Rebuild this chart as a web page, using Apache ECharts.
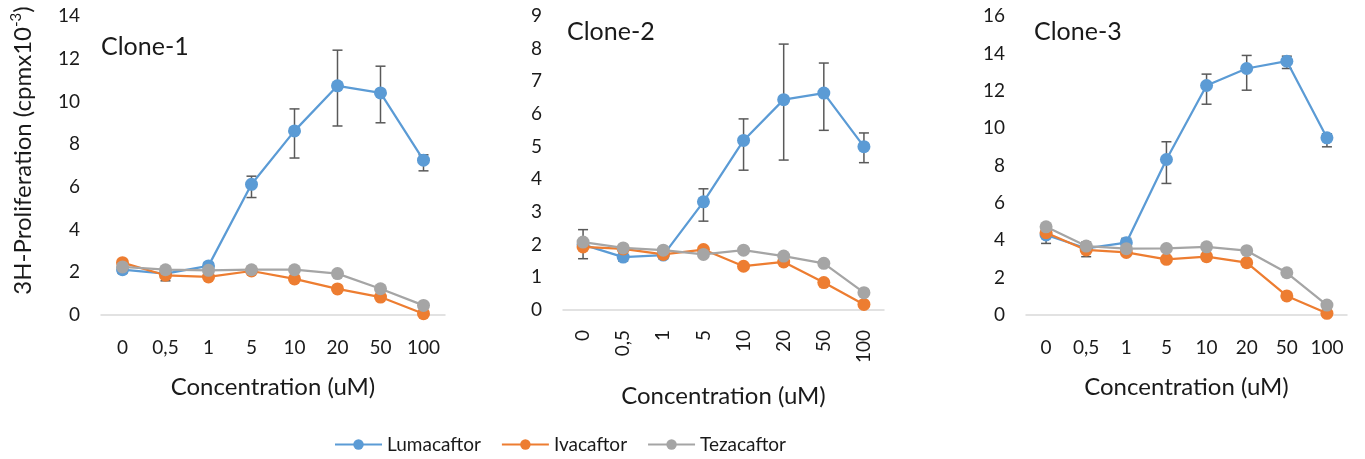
<!DOCTYPE html>
<html>
<head>
<meta charset="utf-8">
<script src="https://cdn.jsdelivr.net/npm/echarts@6/dist/echarts.min.js"></script>
<style>
html,body{margin:0;padding:0;background:#fff;}
#c{width:1365px;height:459px;}
</style>
</head>
<body>
<div id="c"></div>
<script>
// ---- data ----
var categories = ['0', '0,5', '1', '5', '10', '20', '50', '100'];
var panelTitles = ['Clone-1', 'Clone-2', 'Clone-3'];
var seriesNames = ['Lumacaftor', 'Ivacaftor', 'Tezacaftor'];

var clone1Luma = [2.12, 1.94, 2.3, 6.12, 8.62, 10.73, 10.4, 7.25];
var clone1Iva  = [2.45, 1.86, 1.78, 2.06, 1.69, 1.22, 0.84, 0.06];
var clone1Teza = [2.25, 2.12, 2.09, 2.12, 2.12, 1.94, 1.23, 0.45];
var clone1LumaLow  = [1.95, 1.6, 2.15, 5.5, 7.35, 8.85, 9.0, 6.75];
var clone1LumaHigh = [2.3, 2.2, 2.45, 6.5, 9.65, 12.4, 11.65, 7.5];

var clone2Luma = [2.0, 1.62, 1.68, 3.31, 5.19, 6.44, 6.64, 5.0];
var clone2Iva  = [1.93, 1.87, 1.7, 1.85, 1.34, 1.47, 0.84, 0.17];
var clone2Teza = [2.08, 1.9, 1.83, 1.7, 1.83, 1.65, 1.43, 0.53];
var clone2LumaLow  = [1.57, 1.5, 1.57, 2.72, 4.28, 4.59, 5.5, 4.51];
var clone2LumaHigh = [2.46, 1.75, 1.8, 3.71, 5.85, 8.14, 7.56, 5.42];

var clone3Luma = [4.28, 3.57, 3.87, 8.32, 12.28, 13.19, 13.58, 9.48];
var clone3Iva  = [4.4, 3.48, 3.35, 2.98, 3.12, 2.8, 1.02, 0.09];
var clone3Teza = [4.72, 3.69, 3.55, 3.56, 3.65, 3.44, 2.26, 0.53];
var clone3LumaLow  = [3.83, 3.12, 3.7, 7.04, 11.28, 12.03, 13.19, 9.0];
var clone3LumaHigh = [4.72, 3.9, 4.1, 9.27, 12.89, 13.89, 13.85, 9.7];

var yMax = [14, 9, 16];
var yInterval = [2, 1, 2];

// ---- build ----
var panels = [
  {luma: clone1Luma, iva: clone1Iva, teza: clone1Teza, low: clone1LumaLow, high: clone1LumaHigh},
  {luma: clone2Luma, iva: clone2Iva, teza: clone2Teza, low: clone2LumaLow, high: clone2LumaHigh},
  {luma: clone3Luma, iva: clone3Iva, teza: clone3Teza, low: clone3LumaLow, high: clone3LumaHigh}
];
var colors = ['#5B9BD5', '#ED7D31', '#A5A5A5'];
var FONT = 'Lato';
var TXT = '#1a1a1a';

var grids = [
  {left: 101, top: 16, width: 344, height: 299},
  {left: 563, top: 16, width: 321, height: 294},
  {left: 1026, top: 16, width: 321, height: 299}
];
var titleStyle = [
  {left: 96, top: 29},
  {left: 562, top: 14},
  {left: 1029, top: 14}
];

var xAxes = [], yAxes = [], series = [], titles = [];
panels.forEach(function (p, i) {
  titles.push({
    text: panelTitles[i], left: titleStyle[i].left, top: titleStyle[i].top,
    textStyle: {fontFamily: FONT, fontSize: 25, fontWeight: 'normal', color: TXT}
  });
  xAxes.push({
    type: 'category', gridIndex: i, data: categories, boundaryGap: true,
    axisLine: {lineStyle: {color: '#D9D9D9', width: 1.5}},
    axisTick: {show: false},
    axisLabel: {
      fontFamily: FONT, fontSize: 19, color: TXT, interval: 0,
      rotate: i === 1 ? 90 : 0, margin: i === 1 ? 20 : 23
    },
    name: 'Concentration (uM)', nameLocation: 'middle',
    nameGap: i === 1 ? 74 : 60,
    nameTextStyle: {fontFamily: FONT, fontSize: 24, color: TXT}
  });
  var ya = {
    type: 'value', gridIndex: i, min: 0, max: yMax[i], interval: yInterval[i],
    axisLine: {show: false}, axisTick: {show: false}, splitLine: {show: false},
    axisLabel: {fontFamily: FONT, fontSize: 19, color: TXT, margin: 21}
  };
  if (i === 0) {
    ya.name = '{a|3H-Proliferation (cpmx10}{s|-3}{a|)}';
    ya.nameLocation = 'middle';
    ya.nameGap = 64;
    ya.nameTextStyle = {
      padding: [0, 0, 0, 30],
      rich: {
        a: {fontFamily: FONT, fontSize: 24, color: TXT, lineHeight: 28},
        s: {fontFamily: FONT, fontSize: 15, color: TXT, lineHeight: 28, verticalAlign: 'top', padding: [0, 0, 11, 0]}
      }
    };
  }
  yAxes.push(ya);

  var errData = categories.map(function (c, k) { return [k, p.low[k], p.high[k]]; });
  series.push({
    type: 'custom', name: 'err' + i, xAxisIndex: i, yAxisIndex: i, z: 1,
    data: errData, encode: {x: 0, y: [1, 2]},
    renderItem: function (params, api) {
      var x = api.value(0);
      var lo = api.coord([x, api.value(1)]);
      var hi = api.coord([x, api.value(2)]);
      var w = 5;
      var st = {stroke: '#595959', lineWidth: 1.5};
      return {
        type: 'group',
        children: [
          {type: 'line', shape: {x1: lo[0], y1: lo[1], x2: hi[0], y2: hi[1]}, style: st},
          {type: 'line', shape: {x1: lo[0] - w, y1: lo[1], x2: lo[0] + w, y2: lo[1]}, style: st},
          {type: 'line', shape: {x1: hi[0] - w, y1: hi[1], x2: hi[0] + w, y2: hi[1]}, style: st}
        ]
      };
    }
  });
  [p.luma, p.iva, p.teza].forEach(function (vals, s) {
    series.push({
      type: 'line', name: seriesNames[s], xAxisIndex: i, yAxisIndex: i,
      data: vals, z: 2 + s,
      symbol: 'circle', symbolSize: 13,
      lineStyle: {color: colors[s], width: 2.25},
      itemStyle: {color: colors[s]},
      emphasis: {disabled: true},
      animation: false
    });
  });
});

var chart = echarts.init(document.getElementById('c'));
chart.setOption({
  animation: false,
  color: colors,
  title: titles,
  grid: grids,
  xAxis: xAxes,
  yAxis: yAxes,
  legend: {
    data: seriesNames, left: 329, top: 430,
    itemWidth: 47, itemHeight: 13, itemGap: 20,
    textStyle: {fontFamily: FONT, fontSize: 19, color: TXT}
  },
  series: series
});
</script>
</body>
</html>
